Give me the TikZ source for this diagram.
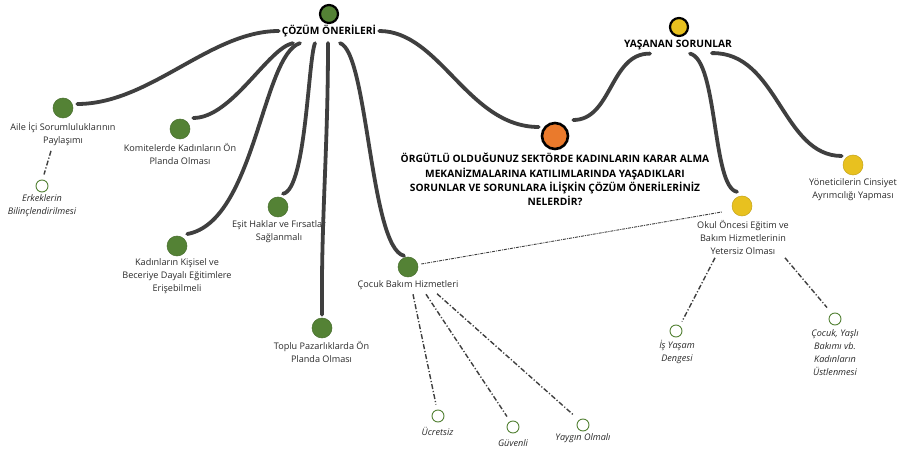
\documentclass[tikz,border=0pt]{standalone}
\usepackage{fontspec}
\setmainfont{Open Sans}
\definecolor{leaf}{HTML}{548235}
\definecolor{sun}{HTML}{E8C11F}
\definecolor{core}{HTML}{EA7A2C}
\definecolor{wire}{HTML}{3F3F3F}
\definecolor{ink}{HTML}{2A2A2A}
\tikzset{
  rootdot/.style={circle, fill=core, draw=black, line width=2.6pt, minimum size=26pt, inner sep=0pt},
  hubgreen/.style={circle, fill=leaf, draw=black, line width=2.2pt, minimum size=18pt, inner sep=0pt},
  hubyellow/.style={circle, fill=sun, draw=black, line width=2.2pt, minimum size=18pt, inner sep=0pt},
  leafdot/.style={circle, fill=leaf, draw=leaf!85!black, line width=0.5pt, minimum size=20pt, inner sep=0pt},
  sundot/.style={circle, fill=sun, draw=sun!85!black, line width=0.5pt, minimum size=20pt, inner sep=0pt},
  tipdot/.style={circle, fill=white, draw=leaf, line width=0.9pt, minimum size=12pt, inner sep=0pt},
  caption/.style={font=\fontsize{9.1}{13}\selectfont, text=ink, align=center, inner sep=0pt},
  tipcaption/.style={caption, font=\fontsize{9.1}{13}\selectfont\itshape},
  headcaption/.style={font=\bfseries\fontsize{10.2}{14.3}\selectfont, text=black, align=center, inner sep=0pt},
  branch/.style={draw=wire, line width=3.8pt, line cap=round},
  twig/.style={draw=wire, line width=1.4pt, dash pattern=on 5pt off 2pt on 1.2pt off 2pt},
  thread/.style={draw=wire, line width=0.9pt, dash pattern=on 3pt off 1pt on 1pt off 1pt},
}
\begin{document}
\begin{tikzpicture}[x=1pt, y=-1pt]
\useasboundingbox[fill=white] (0,0) rectangle (900,449);

% centre of the map
\node[rootdot] (root) at (555,136) {};
\node[headcaption] (roottxt) at (555,179.5) {ÖRGÜTLÜ OLDUĞUNUZ SEKTÖRDE KADINLARIN KARAR ALMA\\MEKANİZMALARINA KATILIMLARINDA YAŞADIKLARI\\SORUNLAR VE SORUNLARA İLİŞKİN ÇÖZÜM ÖNERİLERİNİZ\\NELERDİR?};

% the two main themes
\node[hubgreen] (cz) at (329,14) {};
\node[headcaption] (cztxt) at (329,31) {ÇÖZÜM ÖNERİLERİ};
\node[hubyellow] (ys) at (679,27) {};
\node[headcaption] (ystxt) at (678,45) {YAŞANAN SORUNLAR};

% proposed solutions
\node[leafdot] (aile) at (63,108) {};
\node[caption] (ailetxt) at (63,134) {Aile İçi Sorumluluklarının\\Paylaşımı};
\node[leafdot] (kom) at (180,129) {};
\node[caption] (komtxt) at (180,153.5) {Komitelerde Kadınların Ön\\Planda Olması};
\node[leafdot] (esit) at (278,207) {};
\node[caption] (esittxt) at (279,231.5) {Eşit Haklar ve Fırsatlar\\Sağlanmalı};
\node[leafdot] (kis) at (177,246) {};
\node[caption] (kistxt) at (177,276) {Kadınların Kişisel ve\\Beceriye Dayalı Eğitimlere\\Erişebilmeli};
\node[leafdot] (top) at (322,328) {};
\node[caption] (toptxt) at (321.5,351.5) {Toplu Pazarlıklarda Ön\\Planda Olması};
\node[leafdot] (coc) at (408,267) {};
\node[caption] (coctxt) at (408,285) {Çocuk Bakım Hizmetleri};

% problems
\node[sundot] (okul) at (742,206) {};
\node[caption] (okultxt) at (743,237) {Okul Öncesi Eğitim ve\\Bakım Hizmetlerinin\\Yetersiz Olması};
\node[sundot] (yon) at (853,165) {};
\node[caption] (yontxt) at (853,189.5) {Yöneticilerin Cinsiyet\\Ayrımcılığı Yapması};

% details
\node[tipdot] (erk) at (42,186) {};
\node[tipcaption] (erktxt) at (42,206) {Erkeklerin\\Bilinçlendirilmesi};
\node[tipdot] (ucr) at (438,416) {};
\node[tipcaption] (ucrtxt) at (437.5,431) {Ücretsiz};
\node[tipdot] (guv) at (513,427) {};
\node[tipcaption] (guvtxt) at (513,443) {Güvenli};
\node[tipdot] (yay) at (583,425) {};
\node[tipcaption] (yaytxt) at (583,438) {Yaygın Olmalı};
\node[tipdot] (isy) at (676,331) {};
\node[tipcaption] (isytxt) at (677,351.5) {İş Yaşam\\Dengesi};
\node[tipdot] (yas) at (835,319) {};
\node[tipcaption] (yastxt) at (835,352.5) {Çocuk, Yaşlı\\Bakımı vb.\\Kadınların\\Üstlenmesi};

% main branches
\draw[branch] ([xshift=-3pt]cztxt.west) .. controls (210,31) and (150,104) .. ([xshift=4pt,yshift=4pt]aile.east);
\draw[branch] ([xshift=-36pt,yshift=-6pt]cztxt.south) .. controls (268,48) and (232,118) .. ([xshift=3pt,yshift=11pt]kom.east);
\draw[branch] ([xshift=-29pt,yshift=-6pt]cztxt.south) .. controls (262,55) and (255,222) .. ([xshift=0pt,yshift=12pt]kis.east);
\draw[branch] ([xshift=-14pt,yshift=-6pt]cztxt.south) .. controls (308,60) and (306,190) .. ([xshift=5pt,yshift=3pt]esit.north);
\draw[branch] ([xshift=-1pt,yshift=-6pt]cztxt.south) .. controls (328,150) and (321,220) .. ([yshift=3pt]top.north);
\draw[branch] ([xshift=11pt,yshift=-6pt]cztxt.south) .. controls (368,52) and (370,248) .. ([xshift=-4pt,yshift=1pt]coc.north);
\draw[branch] ([xshift=3pt]cztxt.east) .. controls (440,31) and (468,127) .. ([xshift=-2pt,yshift=9pt]root.west);
\draw[branch] ([xshift=4pt,yshift=16pt]root.east) .. controls (612,120) and (610,53) .. ([xshift=-28pt,yshift=-3.5pt]ystxt.south);
\draw[branch] ([xshift=12pt,yshift=-3.5pt]ystxt.south) .. controls (718,60) and (712,188) .. ([xshift=-5pt,yshift=4pt]okul.north);
\draw[branch] ([xshift=34pt,yshift=-3pt]ystxt.south) .. controls (778,52) and (782,156) .. ([xshift=-1pt,yshift=9pt]yon.west);

% dash-dot links to details
\draw[twig] ([xshift=-12pt,yshift=-5pt]ailetxt.south) -- ([xshift=2pt,yshift=5pt]erk.north);
\draw[twig] ([xshift=5pt,yshift=-4.5pt]coctxt.south) -- ([xshift=-2pt,yshift=5pt]ucr.north);
\draw[twig] ([xshift=18pt,yshift=-4.5pt]coctxt.south) -- ([xshift=-6pt,yshift=4pt]guv.north);
\draw[twig] ([xshift=29pt,yshift=-4pt]coctxt.south) -- ([xshift=-10pt,yshift=4pt]yay.north);
\draw[twig] ([xshift=-28pt,yshift=-3.5pt]okultxt.south) -- ([xshift=6pt,yshift=3pt]isy.north);
\draw[twig] ([xshift=42pt,yshift=-3.5pt]okultxt.south) -- ([xshift=-8pt,yshift=5pt]yas.north);
\draw[thread] ([xshift=3pt,yshift=3pt]coc.east) -- ([xshift=-10pt,yshift=-6pt]okul.west);
\end{tikzpicture}
\end{document}
